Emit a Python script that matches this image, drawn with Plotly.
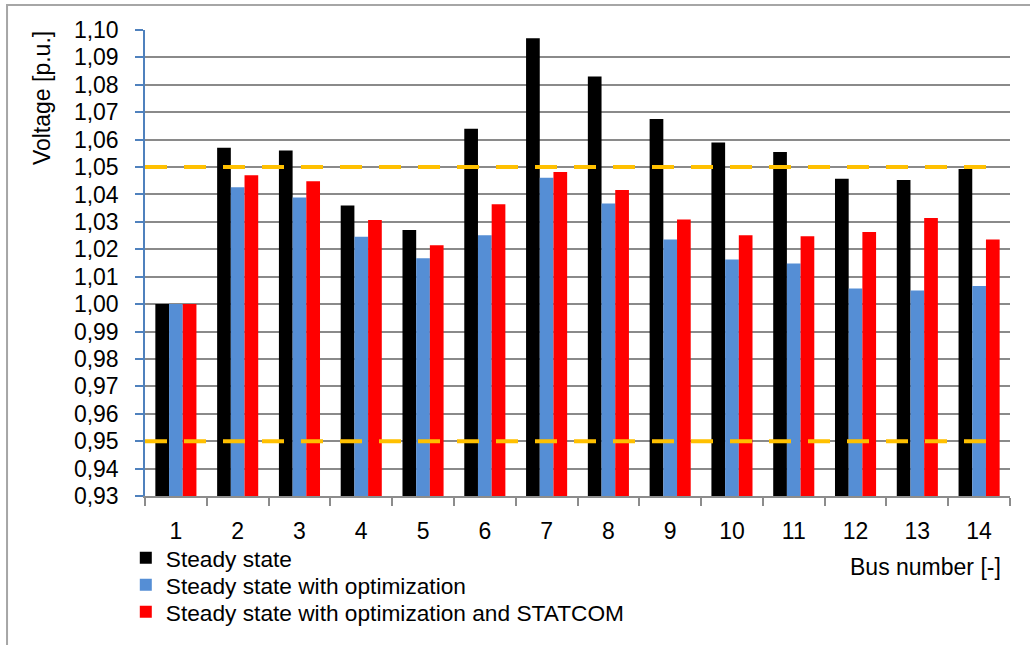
import plotly.graph_objects as go

# Bus voltages [p.u.] for the 14-bus system
buses = [str(i) for i in range(1, 15)]
steady = [1.000, 1.057, 1.056, 1.036, 1.027, 1.064, 1.097, 1.083, 1.0675, 1.059, 1.0555, 1.0457, 1.0453, 1.0493]
steady_opt = [1.000, 1.0426, 1.0389, 1.0246, 1.0167, 1.0251, 1.0461, 1.0367, 1.0236, 1.0163, 1.0148, 1.0057, 1.0050, 1.0066]
steady_opt_statcom = [1.000, 1.047, 1.0448, 1.0307, 1.0215, 1.0364, 1.0482, 1.0416, 1.0309, 1.0251, 1.0248, 1.0263, 1.0314, 1.0236]
voltage_limits = [1.05, 0.95]

series_names = [
    "Steady state",
    "Steady state with optimization",
    "Steady state with optimization and STATCOM",
]
series_colors = ["#000000", "#558ED5", "#FF0000"]

FONT = "Liberation Sans, Arial, sans-serif"

fig = go.Figure()
legend_ids = ["legend", "legend2", "legend3"]
for name, vals, col, lg in zip(series_names, [steady, steady_opt, steady_opt_statcom],
                               series_colors, legend_ids):
    fig.add_trace(go.Bar(x=buses, y=vals, name=name, legend=lg,
                         marker=dict(color=col, line=dict(width=0))))

# Voltage limit lines
for lim in voltage_limits:
    fig.add_shape(type="line", xref="paper", yref="y", x0=0, x1=0.985, y0=lim, y1=lim,
                  line=dict(color="#FFC000", width=4, dash="22px,17px"), layer="above")

# Outer chart frame
fig.add_shape(type="rect", xref="paper", yref="paper", x0=-0.1595, x1=1.3, y0=-0.6, y1=1.0536,
              line=dict(color="#A6A6A6", width=2), layer="below")

# One legend row per series, stacked under the x axis
legend_style = dict(x=-0.0222, xanchor="left", yanchor="middle",
                    font=dict(size=22.7, family=FONT), bgcolor="rgba(0,0,0,0)", itemwidth=30)
row_y = [-0.1330, -0.1910, -0.2489]

fig.update_layout(
    width=1030, height=645,
    margin=dict(l=145, r=20, t=30, b=149, autoexpand=False),
    paper_bgcolor="white", plot_bgcolor="white",
    separators=",.",
    barmode="group", bargap=0.335, bargroupgap=0,
    font=dict(family=FONT, size=23, color="#000000"),
    showlegend=True,
    legend=dict(legend_style, y=row_y[0]),
    legend2=dict(legend_style, y=row_y[1]),
    legend3=dict(legend_style, y=row_y[2]),
    xaxis=dict(type="category", showgrid=False, showline=True, linecolor="#8C8C8C", linewidth=1.5,
               ticks="outside", tickson="boundaries", ticklen=8, tickcolor="#8C8C8C", tickwidth=1.5,
               tickfont=dict(size=23), ticklabelstandoff=14),
    yaxis=dict(range=[0.93, 1.10], dtick=0.01, tick0=0.93, tickformat=".2f",
               showgrid=True, gridcolor="#8A8A8A", gridwidth=2,
               showline=True, linecolor="#4F81BD", linewidth=1.5,
               ticks="outside", ticklen=8, tickcolor="#4F81BD", tickwidth=1.5,
               tickfont=dict(size=23), ticklabelstandoff=12, zeroline=False),
    annotations=[
        dict(text="Voltage [p.u.]", textangle=-90, xref="paper", yref="paper",
             x=-0.119, y=0.854, xanchor="center", yanchor="middle", showarrow=False,
             font=dict(size=23)),
        dict(text="Bus number [-]", xref="paper", yref="paper",
             x=0.992, y=-0.152, xanchor="right", yanchor="middle", showarrow=False,
             font=dict(size=23)),
    ],
)

fig.write_html("out.html")
